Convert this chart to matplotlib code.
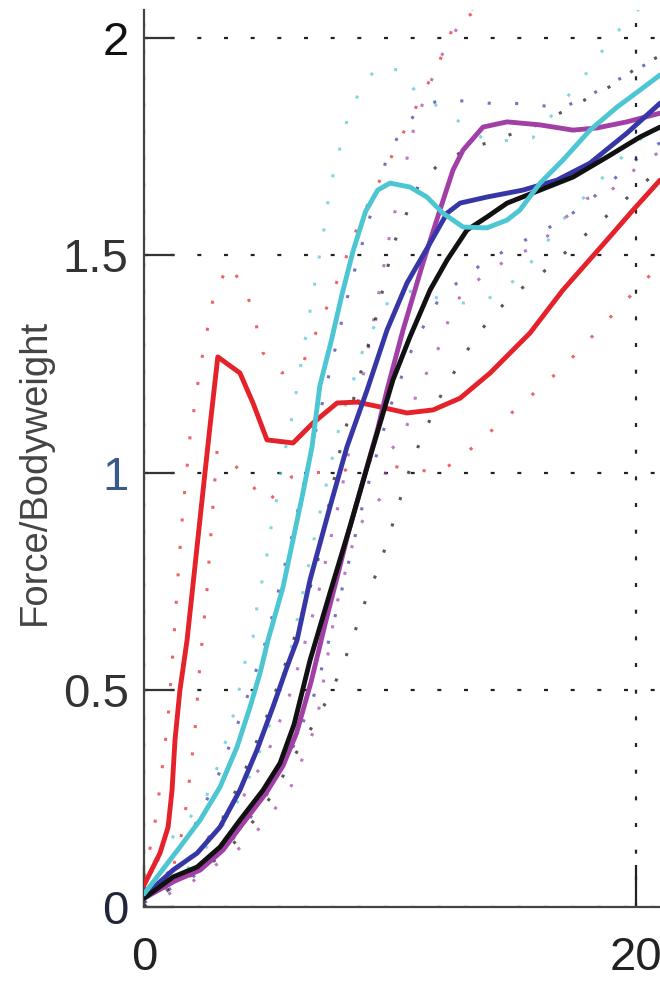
import matplotlib
matplotlib.use("Agg")
import matplotlib.pyplot as plt
from matplotlib import font_manager

# ---------------- data (x = % of stance, y = Force/Bodyweight) ----------------
red_x = [0, 0.65, 0.98, 1.14, 1.26, 1.46, 1.75, 2.36, 2.68, 3.0, 3.9, 4.43, 5.0, 6.06,
         6.87, 7.85, 8.66, 9.59, 10.69, 11.75, 12.85, 14.07, 14.88, 15.69, 17.03, 18.82, 19.88, 20.98]
red_y = [0.05, 0.124, 0.184, 0.269, 0.384, 0.499, 0.614, 0.937, 1.105, 1.266, 1.229, 1.16, 1.075, 1.068,
         1.114, 1.16, 1.162, 1.151, 1.137, 1.144, 1.171, 1.229, 1.275, 1.321, 1.42, 1.535, 1.604, 1.673]

cyan_x = [0, 0.65, 1.46, 2.28, 3.09, 3.78, 4.31, 4.72, 5.04, 5.65, 6.46, 6.83, 7.15, 7.6, 8.05,
          8.5, 9.0, 9.5, 10.0, 10.81, 11.5, 12.15, 12.97, 13.94, 14.76, 15.28, 16.1, 17.03, 18.13,
          19.23, 20.16, 20.98]
cyan_y = [0.03, 0.078, 0.138, 0.2, 0.276, 0.368, 0.46, 0.539, 0.614, 0.736, 0.953, 1.059, 1.2,
          1.3, 1.41, 1.51, 1.6, 1.65, 1.666, 1.657, 1.634, 1.597, 1.565, 1.563, 1.581, 1.604,
          1.666, 1.719, 1.788, 1.841, 1.88, 1.915]

blue_x = [0, 1.18, 2.16, 3.09, 3.9, 4.59, 5.24, 5.81, 6.22, 6.75, 7.56, 8.25, 9.07, 9.88, 10.69,
          11.63, 12.32, 12.85, 13.94, 15.41, 16.79, 18.13, 19.63, 20.98]
blue_y = [0.025, 0.085, 0.124, 0.184, 0.269, 0.361, 0.46, 0.552, 0.614, 0.753, 0.921, 1.059, 1.19,
          1.328, 1.436, 1.528, 1.597, 1.62, 1.634, 1.65, 1.673, 1.712, 1.781, 1.85]

purple_x = [0, 1.26, 2.28, 3.21, 4.03, 4.96, 5.65, 6.2, 6.8, 7.4, 7.9, 8.3, 8.7, 9.1, 9.5,
            9.88, 10.53, 11.34, 12.03, 12.56, 12.97, 13.78, 14.76, 16.1, 17.44, 18.41, 19.63, 20.98]
purple_y = [0.02, 0.06, 0.085, 0.131, 0.193, 0.262, 0.325, 0.4, 0.52, 0.66, 0.77, 0.86, 0.94,
            1.02, 1.1, 1.19, 1.328, 1.482, 1.604, 1.696, 1.742, 1.795, 1.807, 1.8, 1.788, 1.793,
            1.807, 1.827]

black_x = [0, 1.18, 2.16, 3.09, 3.9, 4.84, 5.53, 6.1, 6.75, 7.56, 8.37, 9.19, 10.12, 10.81,
           11.63, 12.32, 13.13, 13.94, 14.76, 16.1, 17.44, 18.82, 20.16, 20.98]
black_y = [0.02, 0.069, 0.092, 0.138, 0.2, 0.269, 0.331, 0.42, 0.568, 0.723, 0.875, 1.036,
           1.213, 1.312, 1.42, 1.489, 1.558, 1.588, 1.62, 1.65, 1.68, 1.726, 1.772, 1.795]

# standard-deviation bands (dotted)
red_up_x = [0, 0.16, 0.45, 0.65, 0.98, 1.18, 1.38, 1.59, 1.87, 2.28, 2.8, 3.41, 4.1, 4.51, 4.84,
            5.61, 6.46, 7.56, 8.78, 10.0, 11.2, 12.03, 12.6, 14.0, 17.0, 21.0]
red_up_y = [0.07, 0.11, 0.196, 0.276, 0.435, 0.59, 0.76, 0.92, 1.082, 1.24, 1.397, 1.478, 1.427,
            1.351, 1.275, 1.229, 1.252, 1.397, 1.58, 1.72, 1.857, 1.949, 2.03, 2.08, 2.1, 2.15]
red_lo_x = [0, 1.0, 1.54, 1.75, 2.07, 2.28, 2.56, 2.76, 2.97, 3.5, 4.3, 5.0, 6.0, 7.0, 8.0, 9.0,
            10.5, 12.0, 13.0, 14.0, 15.0, 16.0, 17.0, 18.0, 19.0, 21.0]
red_lo_y = [0.0, 0.05, 0.17, 0.246, 0.403, 0.564, 0.73, 0.89, 1.05, 1.03, 0.976, 0.93, 0.99, 1.0,
            1.0, 1.03, 1.01, 1.0, 1.04, 1.09, 1.14, 1.19, 1.24, 1.3, 1.36, 1.48]

cyan_up_x = [0, 1.0, 2.48, 2.97, 3.37, 3.78, 4.0, 4.43, 4.63, 4.92, 5.12, 5.4, 5.61, 5.93, 7.36,
             7.56, 8.25, 8.78, 9.47, 10.4, 11.0, 12.5, 14.0, 15.8, 17.0, 18.0, 19.0, 21.0]
cyan_up_y = [0.05, 0.15, 0.246, 0.32, 0.39, 0.47, 0.545, 0.62, 0.707, 0.78, 0.86, 0.94, 1.02, 1.1,
             1.574, 1.657, 1.81, 1.88, 1.933, 1.926, 1.88, 1.82, 1.76, 1.77, 1.85, 1.92, 2.0, 2.12]
cyan_lo_x = [0, 1, 2, 3, 4, 5, 6, 7, 8, 9, 10, 11, 12, 13, 14, 15, 16, 17, 18, 19, 20, 21]
cyan_lo_y = [0.01, 0.05, 0.1, 0.17, 0.26, 0.4, 0.6, 0.87, 1.12, 1.3, 1.4, 1.42, 1.4, 1.39, 1.4,
             1.44, 1.5, 1.58, 1.64, 1.7, 1.76, 1.8]

blue_up_x = [0, 1, 2, 3, 4, 5, 6, 7, 7.5, 8.37, 9.88, 10.53, 11.34, 12, 13, 14, 15, 16, 17, 18,
             19, 20, 21]
blue_up_y = [0.04, 0.1, 0.18, 0.3, 0.45, 0.62, 0.85, 1.1, 1.22, 1.427, 1.726, 1.795, 1.841, 1.857,
             1.855, 1.85, 1.85, 1.845, 1.84, 1.864, 1.896, 1.926, 1.96]
blue_lo_x = [0, 2, 3, 4, 5, 6, 7, 8, 9, 10, 11, 12, 13, 14, 15, 16, 17, 18, 19, 20, 21]
blue_lo_y = [0.01, 0.07, 0.12, 0.18, 0.26, 0.36, 0.5, 0.72, 0.95, 1.15, 1.3, 1.4, 1.45, 1.49, 1.52,
             1.55, 1.58, 1.62, 1.67, 1.72, 1.76]

purple_up_x = [0, 2, 4, 5, 6, 7, 8, 9, 10, 11, 12, 13, 14, 16, 18, 21]
purple_up_y = [0.04, 0.12, 0.25, 0.35, 0.5, 0.7, 0.95, 1.25, 1.55, 1.8, 1.95, 2.05, 2.1, 2.1, 2.08,
               2.1]
purple_lo_x = [0, 2, 4, 5, 6, 7, 7.8, 8.6, 9.0, 9.6, 10.0, 10.5, 10.9, 11.1, 11.5, 12, 12.5, 13,
               14, 15, 16, 17, 18, 19, 20, 21]
purple_lo_y = [0.0, 0.06, 0.14, 0.2, 0.28, 0.42, 0.69, 0.86, 0.9, 0.94, 1.05, 1.08, 1.14, 1.19,
               1.23, 1.29, 1.37, 1.42, 1.46, 1.5, 1.52, 1.58, 1.63, 1.65, 1.7, 1.74]

black_up_x = [0, 2, 3, 4, 5, 6, 7, 8, 9, 9.5, 10.1, 10.7, 11.2, 12, 13, 14, 15, 16, 17, 18, 19,
              20, 21]
black_up_y = [0.03, 0.12, 0.18, 0.3, 0.44, 0.6, 0.78, 1.06, 1.27, 1.37, 1.52, 1.6, 1.666, 1.71,
              1.74, 1.76, 1.78, 1.8, 1.83, 1.86, 1.89, 1.93, 1.96]
black_lo_x = [0, 1, 2.07, 3.09, 3.9, 4.72, 5.4, 6.06, 6.75, 7.44, 7.97, 8.46, 8.9, 9.39, 9.88,
              10.28, 10.69, 11.14, 12, 13, 14, 15, 16, 17, 18, 19, 20, 21]
black_lo_y = [0.0, 0.04, 0.078, 0.115, 0.161, 0.216, 0.276, 0.343, 0.407, 0.476, 0.541, 0.614,
              0.69, 0.76, 0.838, 0.914, 0.99, 1.059, 1.17, 1.27, 1.35, 1.41, 1.45, 1.5, 1.55, 1.6,
              1.65, 1.7]

y_ticks = [0, 0.5, 1, 1.5, 2]
y_ticklabels = ["0", "0.5", "1", "1.5", "2"]
x_ticks = [0, 20]
x_ticklabels = ["0", "20"]
y_label = "Force/Bodyweight"

# ---------------- styling ----------------
names = {f.name for f in font_manager.fontManager.ttflist}
tick_font = "Liberation Sans Narrow" if "Liberation Sans Narrow" in names else "Liberation Sans"
label_font = "Liberation Sans"

RED = "#e52129"
CYAN = "#4cc6d2"
BLUE = "#3636a6"
PURPLE = "#a13fa6"
BLACK = "#111111"

fig = plt.figure(figsize=(6.6, 9.85), dpi=100)
ax_left = 144 / 660
ax_bottom = (985 - 907) / 985
ymax = 2.064
xmax = 21.5
ax_h = (ymax * 434.5) / 985
ax_w = xmax * 24.6 / 660
ax = fig.add_axes([ax_left, ax_bottom, ax_w, ax_h])
ax.set_xlim(0, xmax)
ax.set_ylim(0, ymax)

dot = (0, (1.0, 8.0))
for xs, ys, c in [(red_up_x, red_up_y, RED), (red_lo_x, red_lo_y, RED),
                  (cyan_up_x, cyan_up_y, CYAN), (cyan_lo_x, cyan_lo_y, CYAN),
                  (blue_up_x, blue_up_y, BLUE), (blue_lo_x, blue_lo_y, BLUE),
                  (purple_up_x, purple_up_y, PURPLE), (purple_lo_x, purple_lo_y, PURPLE),
                  (black_up_x, black_up_y, BLACK), (black_lo_x, black_lo_y, BLACK)]:
    ax.plot(xs, ys, linestyle=dot, color=c, lw=2.2, alpha=0.7, zorder=2)

for xs, ys, c in [(red_x, red_y, RED), (purple_x, purple_y, PURPLE), (blue_x, blue_y, BLUE),
                  (black_x, black_y, BLACK), (cyan_x, cyan_y, CYAN)]:
    ax.plot(xs, ys, color=c, lw=3.5, solid_capstyle="round", solid_joinstyle="round", zorder=3)

ax.set_yticks(y_ticks)
ax.set_yticklabels(y_ticklabels)
ax.set_xticks(x_ticks)
ax.set_xticklabels(x_ticklabels)
ax.grid(True, color="#222222", linestyle=(0, (1.8, 10.2)), lw=1.6, zorder=1)
ax.set_axisbelow(True)

for s in ["top", "right"]:
    ax.spines[s].set_visible(False)
for s in ["left", "bottom"]:
    ax.spines[s].set_color("#444444")
    ax.spines[s].set_linewidth(1.6)

ax.tick_params(axis="y", direction="in", length=21.6, width=1.6, color="#333333", pad=11,
               labelsize=34)
ax.tick_params(axis="x", direction="in", length=30, width=1.6, color="#222222", pad=21,
               labelsize=34)
for lab in ax.get_yticklabels() + ax.get_xticklabels():
    lab.set_fontfamily(tick_font)
label_colors = ["#22263a", "#333333", "#3a5a8c", "#333333", "#111111"]
for lab, c in zip(ax.get_yticklabels(), label_colors):
    lab.set_color(c)
for lab in ax.get_xticklabels():
    lab.set_color("#222222")

fig.text(35 / 660, 1 - 472 / 985, y_label, rotation=90, ha="center", va="center",
         fontsize=27.5, family=label_font, color="#444444")

fig.savefig("out.png", dpi=100)
